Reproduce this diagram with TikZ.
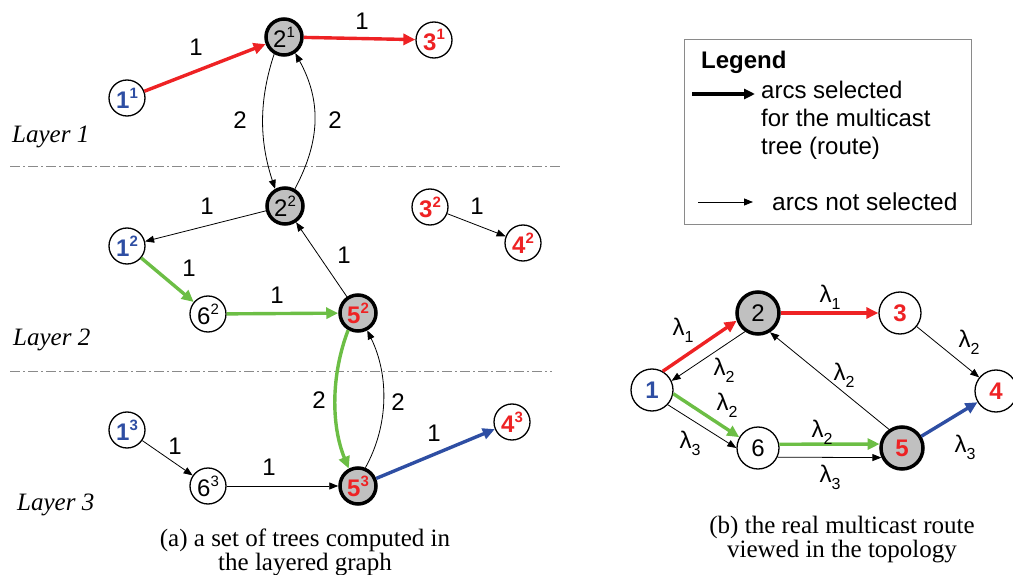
\documentclass[tikz,border=0pt]{standalone}
\usepackage{fontspec}
\setmainfont{Liberation Sans}
\newfontfamily\seriffont{Liberation Serif}
\usetikzlibrary{arrows.meta}
\definecolor{cred}{HTML}{EE2224}
\definecolor{cblue}{HTML}{2E4EA3}
\definecolor{cgreen}{HTML}{6CBE45}
\definecolor{cgray}{HTML}{C0C0C0}
\definecolor{lgray}{HTML}{8A8A8A}
\newcommand{\nlab}[2]{#1\raisebox{0.42em}{\fontsize{15}{15}\selectfont #2}}
\newcommand{\rnl}[2]{\textcolor{cred}{\bfseries\nlab{#1}{#2}}}
\newcommand{\bnl}[2]{\textcolor{cblue}{\bfseries\nlab{#1}{#2}}}
\newcommand{\lam}[1]{λ\raisebox{-0.3em}{\fontsize{16}{16}\selectfont #1}}
\begin{document}
\begin{tikzpicture}[x=1pt,y=-1pt,
  every node/.style={font=\fontsize{24}{27}\selectfont},
  nd/.style={circle,draw,line width=1.3pt,fill=white,minimum size=36pt,inner sep=0pt},
  ndr/.style={nd,minimum size=42pt},
  hub/.style={fill=cgray,line width=3.5pt},
  selarc/.style={line width=3.4pt,-{Triangle[length=12pt,width=11pt]}},
  arc/.style={line width=0.8pt,-{Triangle[length=9pt,width=7pt]}},
  lbl/.style={inner sep=0pt},
  layertxt/.style={font=\seriffont\itshape\fontsize{25}{25}\selectfont,anchor=base west,inner sep=0pt},
  captxt/.style={font=\seriffont\fontsize{25}{24}\selectfont,align=center,inner sep=0pt},
  layerline/.style={lgray,line width=1pt,dash pattern=on 10pt off 3pt on 2pt off 3pt}
]
\useasboundingbox (0,0) rectangle (1013,575);

% layer separators
\coordinate (l1a) at (10,167); \coordinate (l1b) at (562,167);
\coordinate (l2a) at (10,371); \coordinate (l2b) at (552,371);
\draw[layerline] (l1a) -- (l1b);
\draw[layerline] (l2a) -- (l2b);

\node[layertxt] (lay1) at (12,143) {Layer 1};
\node[layertxt] (lay2) at (13,345) {Layer 2};
\node[layertxt] (lay3) at (17,510) {Layer 3};

% ---------- left: layered graph ----------
\node[nd] (a11) at (127,98) {\bnl{1}{1}};
\node[nd,hub] (a21) at (284,37) {\nlab{2}{1}};
\node[nd] (a31) at (434,40) {\rnl{3}{1}};

\node[nd,hub] (a22) at (285,206) {\nlab{2}{2}};
\node[nd] (a12) at (127,246) {\bnl{1}{2}};
\node[nd] (a32) at (430,207) {\rnl{3}{2}};
\node[nd] (a42) at (523,243) {\rnl{4}{2}};
\node[nd] (a62) at (208,314) {\nlab{6}{2}};
\node[nd,hub] (a52) at (358,313) {\rnl{5}{2}};

\node[nd] (a13) at (127,430) {\bnl{1}{3}};
\node[nd] (a63) at (208,486) {\nlab{6}{3}};
\node[nd,hub] (a53) at (358,486) {\rnl{5}{3}};
\node[nd] (a43) at (512,422) {\rnl{4}{3}};

\draw[selarc,cred] (a11) -- (a21);
\draw[selarc,cred] (a21) -- (a31);
\draw[arc] (a21.240) .. controls (259,100) and (259,140) .. (a22.120);
\draw[arc] (a22.60) .. controls (321,140) and (321,100) .. (a21.-55);
\draw[arc] (a22) -- (a12);
\draw[arc] (a32) -- (a42);
\draw[selarc,cgreen] (a12) -- (a62);
\draw[selarc,cgreen] (a62) -- (a52);
\draw[arc] (a52) -- (a22);
\draw[selarc,cgreen] (a52.240) .. controls (331,375) and (331,425) .. (a53.118);
\draw[arc] (a53.68) .. controls (389,425) and (389,375) .. (a52.-62);
\draw[arc] (a13) -- (a63);
\draw[arc] (a63) -- (a53);
\draw[selarc,cblue] (a53) -- (a43);

\node[lbl] (w1) at (196,47) {1};
\node[lbl] (w2) at (362,21) {1};
\node[lbl] (w3) at (240,120) {2};
\node[lbl] (w4) at (335,120) {2};
\node[lbl] (w5) at (207,206) {1};
\node[lbl] (w6) at (189,268) {1};
\node[lbl] (w7) at (277,295) {1};
\node[lbl] (w8) at (344,255) {1};
\node[lbl] (w9) at (477,206) {1};
\node[lbl] (w10) at (319,400) {2};
\node[lbl] (w11) at (398,402) {2};
\node[lbl] (w12) at (175,446) {1};
\node[lbl] (w13) at (269,467) {1};
\node[lbl] (w14) at (434,433) {1};

\node[captxt] (capa) at (305,552) {(a) a set of trees computed in\\the layered graph};

% ---------- legend ----------
\node[draw=lgray,line width=1.2pt,minimum width=287pt,minimum height=185pt,inner sep=0pt] (legbox) at (828,132) {};
\node[anchor=west,inner sep=0pt,font=\bfseries\fontsize{24}{27}\selectfont] (legt) at (701,62) {Legend};
\coordinate (la1) at (692,94); \coordinate (la2) at (755,94);
\draw[line width=3.4pt,-{Triangle[length=11pt,width=10pt]}] (la1) -- (la2);
\node[anchor=north west,inner sep=0pt,align=left,font=\fontsize{24}{28}\selectfont] (legs) at (761,81) {arcs selected\\for the multicast\\tree (route)};
\coordinate (lb1) at (698,202); \coordinate (lb2) at (753,202);
\draw[line width=0.8pt,-{Triangle[length=9pt,width=7pt]}] (lb1) -- (lb2);
\node[anchor=west,inner sep=0pt,font=\fontsize{24.5}{27}\selectfont] (legn) at (772,202) {arcs not selected};

% ---------- right: topology ----------
\node[ndr] (b1) at (652,390) {\textcolor{cblue}{\bfseries 1}};
\node[ndr,hub] (b2) at (758,313) {2};
\node[ndr] (b3) at (900,313) {\textcolor{cred}{\bfseries 3}};
\node[ndr] (b4) at (996,391) {\textcolor{cred}{\bfseries 4}};
\node[ndr] (b6) at (758,448) {6};
\node[ndr,hub] (b5) at (902,448) {\textcolor{cred}{\bfseries 5}};

\draw[selarc,cred] (b1.60) -- (b2.200);
\draw[arc] (b2.235) -- (b1.25);
\draw[selarc,cred] (b2) -- (b3);
\draw[arc] (b3) -- (b4);
\draw[arc] (b5.125) -- (b2.-58);
\draw[selarc,cgreen] (b1.-10) -- (b6.150);
\draw[arc] (b1.-43) -- (b6.180);
\draw[selarc,cgreen] (b6.10) -- (b5.170);
\draw[arc] (b6.-25) -- (b5.-155);
\draw[selarc,cblue] (b5) -- (b4);

\node[lbl] (r1) at (683,330) {\lam{1}};
\node[lbl] (r2) at (724,370) {\lam{2}};
\node[lbl] (r3) at (830,297) {\lam{1}};
\node[lbl] (r4) at (969,342) {\lam{2}};
\node[lbl] (r5) at (844,375) {\lam{2}};
\node[lbl] (r6) at (727,405) {\lam{2}};
\node[lbl] (r7) at (690,443) {\lam{3}};
\node[lbl] (r8) at (822,432) {\lam{2}};
\node[lbl] (r9) at (830,477) {\lam{3}};
\node[lbl] (r10) at (965,447) {\lam{3}};

\node[captxt] (capb) at (842,540) {(b) the real multicast route\\viewed in the topology};
\end{tikzpicture}
\end{document}
